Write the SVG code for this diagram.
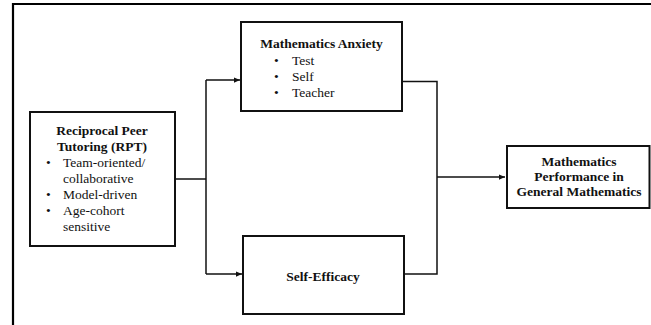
<svg xmlns="http://www.w3.org/2000/svg" width="651" height="325" viewBox="0 0 651 325">
<style>
.box{fill:#fff;stroke:#111;stroke-width:2}
.t{font-family:"Liberation Serif","Times New Roman",serif;font-size:13.5px;fill:#111}
.b{font-weight:bold}
.c{text-anchor:middle}
.ln{fill:none;stroke:#111;stroke-width:1.5}
</style>
<defs>
<marker id="ah" viewBox="0 0 8 8" refX="8" refY="4" markerWidth="6" markerHeight="6" markerUnits="userSpaceOnUse" orient="auto">
<path d="M0,0.5 L8,4 L0,7.5 Z" fill="#111"/>
</marker>
</defs>
<rect width="651" height="325" fill="#fff"/>
<path d="M13,325 V4 H651" fill="none" stroke="#000" stroke-width="2.2"/>
<g id="connectors">
<path class="ln" d="M175,179 H206"/>
<path class="ln" d="M206,80 V274"/>
<path class="ln" d="M206,80 H240" marker-end="url(#ah)"/>
<path class="ln" d="M206,274 H242" marker-end="url(#ah)"/>
<path class="ln" d="M402,81.5 H437 V274 H404"/>
<path class="ln" d="M437,177 H505" marker-end="url(#ah)"/>
</g>
<g id="rpt">
<rect class="box" x="30" y="112" width="145" height="134"/>
<text class="t b c" x="102" y="135">Reciprocal Peer</text>
<text class="t b c" x="102" y="151">Tutoring (RPT)</text>
<text class="t" x="46" y="167">•</text>
<text class="t" x="63" y="167">Team-oriented/</text>
<text class="t" x="63" y="183">collaborative</text>
<text class="t" x="46" y="199">•</text>
<text class="t" x="63" y="199">Model-driven</text>
<text class="t" x="46" y="215">•</text>
<text class="t" x="63" y="215">Age-cohort</text>
<text class="t" x="63" y="231">sensitive</text>
</g>
<g id="anxiety">
<rect class="box" x="241" y="22" width="161" height="89"/>
<text class="t b c" x="321.5" y="48">Mathematics Anxiety</text>
<text class="t" x="274" y="65">•</text>
<text class="t" x="292" y="65">Test</text>
<text class="t" x="274" y="81">•</text>
<text class="t" x="292" y="81">Self</text>
<text class="t" x="274" y="97">•</text>
<text class="t" x="292" y="97">Teacher</text>
</g>
<g id="efficacy">
<rect class="box" x="243" y="236" width="161" height="78"/>
<text class="t b c" x="323" y="281">Self-Efficacy</text>
</g>
<g id="performance">
<rect class="box" x="507" y="146" width="142.5" height="62"/>
<text class="t b c" x="579" y="166">Mathematics</text>
<text class="t b c" x="579" y="181">Performance in</text>
<text class="t b c" x="579" y="196">General Mathematics</text>
</g>
</svg>
